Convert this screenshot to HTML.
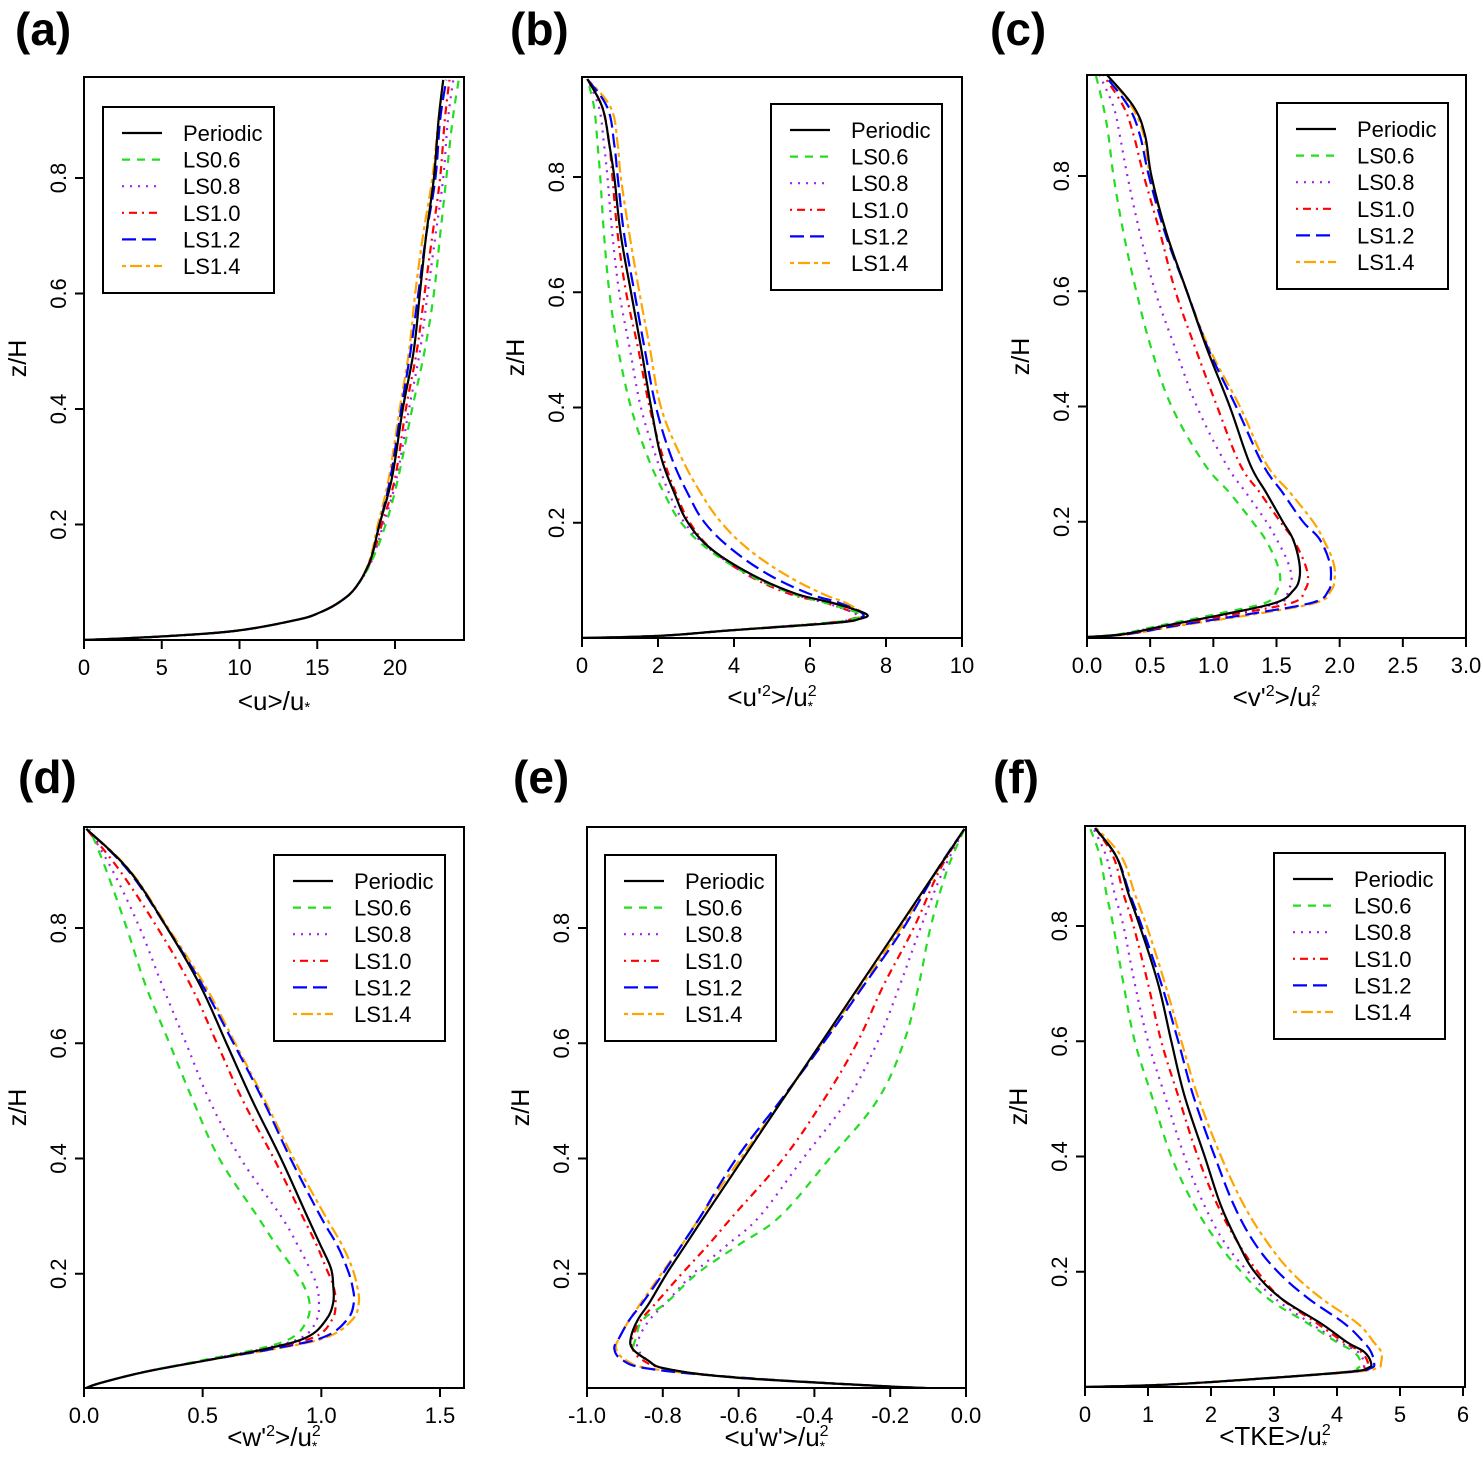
<!DOCTYPE html>
<html><head><meta charset="utf-8"><style>
html,body{margin:0;padding:0;background:#fff;}
svg{display:block;font-family:"Liberation Sans",Arial,sans-serif;}
</style></head><body>
<svg id="fig" width="1483" height="1459" viewBox="0 0 1483 1459" xmlns="http://www.w3.org/2000/svg"></svg>
<script>
const seriesNames = ["Periodic","LS0.6","LS0.8","LS1.0","LS1.2","LS1.4"];
const seriesColors = ["#000000","#22dd22","#a020f0","#ff0000","#0000ff","#ffa500"];
const seriesDash = ["", "8 7", "2 6", "2 5 8 5", "14 6", "4 4 12 4"];

// Panel (a) <u>/u*
const zA = [0,0.006,0.016,0.035,0.048,0.067,0.092,0.137,0.2,0.28,0.4,0.5,0.6,0.7,0.8,0.9,0.97];
const aPeriodic = [0,4.9,9.8,13.7,15.2,16.5,17.5,18.4,19.0,19.8,20.5,21.2,21.6,22.0,22.5,22.8,23.1];
const aLS06 = [0,4.9,9.8,13.7,15.2,16.5,17.5,18.5,19.4,20.2,21.1,21.9,22.5,22.9,23.3,23.7,24.1];
const aLS08 = [0,4.9,9.8,13.7,15.2,16.5,17.5,18.5,19.25,20.1,20.9,21.6,22.1,22.6,23.1,23.4,23.75];
const aLS10 = [0,4.9,9.8,13.7,15.2,16.5,17.5,18.45,19.15,20.0,20.7,21.4,21.9,22.4,22.9,23.2,23.5];
const aLS12 = [0,4.9,9.8,13.7,15.2,16.5,17.5,18.4,19.0,19.7,20.4,21.0,21.5,22.0,22.6,22.9,23.3];
const aLS14 = [0,4.9,9.8,13.7,15.2,16.5,17.5,18.35,18.9,19.6,20.3,20.9,21.3,21.8,22.4,22.8,23.1];
const aTicks = [0,5,10,15,20];

// Panel (b) <u'2>
const zB = [0,0.004,0.013,0.026,0.033,0.042,0.061,0.077,0.11,0.154,0.2,0.25,0.314,0.4,0.505,0.6,0.7,0.8,0.856,0.92,0.97];
const bPeriodic = [0,2.1,3.85,6.6,7.3,7.47,6.59,5.62,4.47,3.41,2.79,2.44,2.08,1.82,1.55,1.29,1.02,0.85,0.72,0.54,0.14];
const bLS06 = [0,2.1,3.85,6.4,7.12,7.3,6.41,5.53,4.38,3.32,2.61,2.17,1.73,1.29,0.94,0.72,0.58,0.48,0.41,0.32,0.14];
const bLS08 = [0,2.1,3.85,6.4,7.1,7.2,6.41,5.53,4.38,3.37,2.7,2.3,1.95,1.55,1.25,0.98,0.8,0.67,0.58,0.45,0.14];
const bLS10 = [0,2.1,3.85,6.4,7.1,7.2,6.41,5.44,4.34,3.41,2.84,2.48,2.13,1.78,1.47,1.16,0.94,0.8,0.72,0.54,0.14];
const bLS12 = [0,2.1,3.85,6.6,7.2,7.39,6.77,5.97,4.91,3.94,3.23,2.79,2.35,1.95,1.64,1.38,1.11,0.94,0.85,0.67,0.14];
const bLS14 = [0,2.1,3.85,6.6,7.2,7.39,6.94,6.32,5.35,4.38,3.67,3.14,2.61,2.08,1.78,1.51,1.25,1.02,0.94,0.76,0.14];
const bTicks = [0,2,4,6,8,10];

// Panel (c) <v'2>
const zC = [0,0.005,0.02,0.04,0.06,0.08,0.1,0.13,0.17,0.2,0.25,0.3,0.4,0.5,0.6,0.7,0.8,0.87,0.92,0.975];
const cPeriodic = [0,0.29,0.63,1.1,1.5,1.63,1.68,1.68,1.63,1.55,1.42,1.29,1.13,0.95,0.79,0.63,0.51,0.46,0.37,0.16];
const cLS06 = [0,0.26,0.58,1.03,1.42,1.5,1.53,1.5,1.41,1.31,1.13,0.93,0.67,0.51,0.39,0.29,0.21,0.17,0.13,0.07];
const cLS08 = [0,0.27,0.61,1.1,1.53,1.59,1.62,1.59,1.5,1.42,1.26,1.1,0.87,0.7,0.54,0.42,0.32,0.26,0.21,0.1];
const cLS10 = [0,0.3,0.66,1.18,1.63,1.72,1.75,1.72,1.63,1.53,1.37,1.21,1.03,0.86,0.7,0.58,0.45,0.37,0.29,0.13];
const cLS12 = [0,0.32,0.71,1.29,1.79,1.91,1.93,1.92,1.84,1.71,1.55,1.39,1.18,0.96,0.79,0.62,0.49,0.42,0.33,0.14];
const cLS14 = [0,0.33,0.74,1.34,1.82,1.93,1.96,1.95,1.87,1.79,1.61,1.42,1.21,0.97,0.79,0.63,0.5,0.45,0.355,0.16];
const cTicks = [0,0.5,1,1.5,2,2.5,3];

// Panel (d) <w'2>
const zD = [0,0.01,0.03,0.05,0.07,0.09,0.12,0.15,0.18,0.21,0.25,0.3,0.4,0.5,0.6,0.7,0.8,0.9,0.972];
const dPeriodic = [0,0.066,0.26,0.52,0.77,0.94,1.02,1.05,1.05,1.04,0.996,0.94,0.83,0.71,0.6,0.49,0.35,0.19,0.01];
const dLS06 = [0,0.066,0.26,0.5,0.74,0.88,0.94,0.95,0.925,0.88,0.81,0.73,0.57,0.46,0.36,0.26,0.18,0.094,0.024];
const dLS08 = [0,0.066,0.26,0.51,0.756,0.92,0.98,0.99,0.98,0.95,0.9,0.83,0.66,0.53,0.43,0.33,0.235,0.12,0.017];
const dLS10 = [0,0.066,0.26,0.52,0.77,0.97,1.045,1.06,1.05,1.02,0.98,0.92,0.8,0.67,0.56,0.45,0.31,0.15,0.01];
const dLS12 = [0,0.066,0.26,0.52,0.8,1.01,1.108,1.137,1.13,1.108,1.066,0.996,0.87,0.756,0.63,0.5,0.35,0.186,0.01];
const dLS14 = [0,0.066,0.26,0.52,0.81,1.024,1.13,1.158,1.15,1.13,1.087,1.017,0.883,0.763,0.637,0.51,0.355,0.193,0.01];
const dTicks = [0,0.5,1,1.5];

// Panel (e) <u'w'>
const zE = [0,0.005,0.02,0.035,0.05,0.07,0.09,0.12,0.15,0.2,0.25,0.3,0.4,0.5,0.6,0.7,0.8,0.9,0.972];
const ePeriodic = [-0.03,-0.22,-0.61,-0.79,-0.84,-0.88,-0.884,-0.866,-0.835,-0.79,-0.74,-0.69,-0.588,-0.486,-0.383,-0.281,-0.179,-0.077,-0.004];
const eLS06 = [-0.03,-0.22,-0.61,-0.79,-0.84,-0.875,-0.87,-0.853,-0.79,-0.71,-0.6,-0.49,-0.36,-0.235,-0.165,-0.125,-0.094,-0.05,-0.004];
const eLS08 = [-0.03,-0.22,-0.61,-0.79,-0.84,-0.866,-0.862,-0.835,-0.791,-0.72,-0.63,-0.544,-0.43,-0.315,-0.235,-0.175,-0.12,-0.06,-0.004];
const eLS10 = [-0.03,-0.22,-0.61,-0.79,-0.853,-0.88,-0.88,-0.857,-0.817,-0.75,-0.68,-0.615,-0.482,-0.377,-0.288,-0.218,-0.138,-0.07,-0.004];
const eLS12 = [-0.03,-0.22,-0.6,-0.835,-0.906,-0.928,-0.914,-0.888,-0.853,-0.8,-0.75,-0.7,-0.606,-0.49,-0.377,-0.27,-0.165,-0.077,-0.004];
const eLS14 = [-0.03,-0.22,-0.6,-0.83,-0.897,-0.923,-0.914,-0.888,-0.857,-0.804,-0.75,-0.7,-0.595,-0.486,-0.38,-0.275,-0.172,-0.075,-0.004];
const eTicks = [-1,-0.8,-0.6,-0.4,-0.2,0];

// Panel (f) <TKE>
const zF = [0,0.004,0.013,0.026,0.033,0.042,0.061,0.077,0.11,0.154,0.2,0.25,0.314,0.4,0.505,0.6,0.7,0.8,0.856,0.92,0.97];
const fPeriodic = [0,1.27,2.59,4.17,4.49,4.54,4.43,4.17,3.75,3.11,2.69,2.43,2.16,1.9,1.58,1.37,1.16,0.87,0.69,0.5,0.16];
const fLS06 = [0,1.27,2.59,4.12,4.33,4.38,4.27,4.01,3.54,2.9,2.48,2.11,1.74,1.37,1.06,0.79,0.61,0.45,0.34,0.24,0.08];
const fLS08 = [0,1.27,2.59,4.12,4.38,4.43,4.33,4.06,3.59,3.01,2.59,2.22,1.9,1.58,1.27,1.0,0.79,0.61,0.47,0.34,0.13];
const fLS10 = [0,1.27,2.59,4.15,4.43,4.49,4.38,4.12,3.69,3.11,2.74,2.43,2.11,1.79,1.48,1.21,1.0,0.77,0.61,0.45,0.16];
const fLS12 = [0,1.27,2.59,4.2,4.54,4.59,4.54,4.43,4.12,3.54,3.06,2.69,2.37,2.06,1.72,1.48,1.21,0.9,0.71,0.5,0.16];
const fLS14 = [0,1.27,2.59,4.25,4.64,4.7,4.7,4.59,4.33,3.75,3.27,2.9,2.53,2.16,1.79,1.53,1.27,0.98,0.79,0.58,0.18];
const fTicks = [0,1,2,3,4,5,6];

const zTicks = [0.2,0.4,0.6,0.8];

const NS = "http://www.w3.org/2000/svg";
const svg = document.getElementById("fig");
function mk(tag, attrs, parent){
  const e = document.createElementNS(NS, tag);
  for (const k in attrs) e.setAttribute(k, attrs[k]);
  (parent||svg).appendChild(e);
  return e;
}
function smoothPath(pts){
  let d = "M" + pts[0][0].toFixed(2) + "," + pts[0][1].toFixed(2);
  for (let i=0;i<pts.length-1;i++){
    const p0 = pts[Math.max(0,i-1)], p1 = pts[i], p2 = pts[i+1], p3 = pts[Math.min(pts.length-1,i+2)];
    const t = 0.18;
    const c1 = [p1[0]+(p2[0]-p0[0])*t, p1[1]+(p2[1]-p0[1])*t];
    const c2 = [p2[0]-(p3[0]-p1[0])*t, p2[1]-(p3[1]-p1[1])*t];
    d += " C"+c1[0].toFixed(2)+","+c1[1].toFixed(2)+" "+c2[0].toFixed(2)+","+c2[1].toFixed(2)+" "+p2[0].toFixed(2)+","+p2[1].toFixed(2);
  }
  return d;
}

const panels = [
  {id:"a", label:"(a)", lx:15, ly:45, box:[84,77,464,640], xv:[0,20], xp:[84,395], zp0:640, zp8:178, z:zA, ser:[aPeriodic,aLS06,aLS08,aLS10,aLS12,aLS14], ticks:aTicks, fmt:v=>String(v), leg:[103,107], title:"u", kind:"mean", tOff:70},
  {id:"b", label:"(b)", lx:510, ly:45, box:[582,77,962,638], xv:[0,10], xp:[582,962], zp0:638, zp8:177, z:zB, ser:[bPeriodic,bLS06,bLS08,bLS10,bLS12,bLS14], ticks:bTicks, fmt:v=>String(v), leg:[771,104], title:"<u'", kind:"sq", tOff:68},
  {id:"c", label:"(c)", lx:990, ly:45, box:[1087,75,1466,638], xv:[0,3], xp:[1087,1466], zp0:637, zp8:176, z:zC, ser:[cPeriodic,cLS06,cLS08,cLS10,cLS12,cLS14], ticks:cTicks, fmt:v=>v.toFixed(1), leg:[1277,103], title:"<v'", kind:"sq", tOff:68},
  {id:"d", label:"(d)", lx:18, ly:793, box:[84,827,464,1388], xv:[0,1.5], xp:[84,440], zp0:1389, zp8:928, z:zD, ser:[dPeriodic,dLS06,dLS08,dLS10,dLS12,dLS14], ticks:dTicks, fmt:v=>v.toFixed(1), leg:[274,855], title:"<w'", kind:"sq", tOff:58},
  {id:"e", label:"(e)", lx:513, ly:793, box:[587,827,966,1388], xv:[-1,0], xp:[587,966], zp0:1389, zp8:928, z:zE, ser:[ePeriodic,eLS06,eLS08,eLS10,eLS12,eLS14], ticks:eTicks, fmt:v=>v.toFixed(1), leg:[605,855], title:"<u'w'>/u", kind:"uw", tOff:58},
  {id:"f", label:"(f)", lx:993, ly:793, box:[1085,826,1465,1387], xv:[0,6], xp:[1085,1463], zp0:1387, zp8:926, z:zF, ser:[fPeriodic,fLS06,fLS08,fLS10,fLS12,fLS14], ticks:fTicks, fmt:v=>String(v), leg:[1274,853], title:"<TKE>/u", kind:"tke", tOff:58}
];

panels.forEach(p=>{
  const g = mk("g",{});
  
  
  const sx = v => p.xp[0] + (v - p.xv[0]) * (p.xp[1]-p.xp[0])/(p.xv[1]-p.xv[0]);
  const sz = z => p.zp0 - z * (p.zp0 - p.zp8)/0.8;
  const [x0,y0,x1,y1] = p.box;

  const lab = mk("text",{x:p.lx, y:p.ly, "font-size":46, "font-weight":"bold", fill:"#000"}, g);
  lab.textContent = p.label;
  
  

  const clipId = "clip"+p.id;
  const cp = mk("clipPath",{id:clipId}, g);
  mk("rect",{x:x0,y:y0,width:x1-x0,height:y1-y0}, cp);
  const lines = mk("g",{"clip-path":"url(#"+clipId+")"}, g);
  for (let s=p.ser.length-1; s>=0; s--){
    const pts = p.z.map((z,i)=>[sx(p.ser[s][i]), sz(z)]);
    const path = mk("path",{d:smoothPath(pts), fill:"none", stroke:seriesColors[s], "stroke-width":2.2, "stroke-dasharray":seriesDash[s], "stroke-linejoin":"round"}, lines);
    
    
  }

  const frame = mk("rect",{x:x0,y:y0,width:x1-x0,height:y1-y0,fill:"none",stroke:"#000","stroke-width":2}, g);
  
  

  p.ticks.forEach(v=>{
    const x = sx(v);
    mk("line",{x1:x,y1:y1,x2:x,y2:y1+9,stroke:"#000","stroke-width":2}, g);
    const t = mk("text",{x:x, y:y1+35, "font-size":22, "text-anchor":"middle", fill:"#000"}, g);
    t.textContent = p.fmt(v);
    
    
  });
  zTicks.forEach(v=>{
    const y = sz(v);
    mk("line",{x1:x0,y1:y,x2:x0-9,y2:y,stroke:"#000","stroke-width":2}, g);
    const t = mk("text",{x:0,y:0,"font-size":22,"text-anchor":"middle",fill:"#000",transform:"translate("+(x0-18)+","+y+") rotate(-90)"}, g);
    t.textContent = v.toFixed(1);
    
    
  });
  const yt = mk("text",{x:0,y:0,"font-size":25,"text-anchor":"middle",fill:"#000",transform:"translate("+(x0-58)+","+((y0+y1)/2)+") rotate(-90)"}, g);
  yt.textContent = "z/H";
  
  

  const cx = (x0+x1)/2, ty = y1+p.tOff;
  const xt = mk("text",{x:cx, y:ty, "font-size":26, "text-anchor":"middle", fill:"#000"}, g);
  
  
  if (p.kind==="mean"){
    xt.innerHTML = '&lt;u&gt;/u<tspan font-size="15" dy="2">*</tspan>';
  } else if (p.kind==="sq"){
    xt.innerHTML = p.title.replace('<','&lt;') + '<tspan font-size="16" dy="-10">2</tspan><tspan dy="10">&gt;/u</tspan><tspan font-size="16" dy="-10">2</tspan><tspan font-size="14" dx="-9" dy="15">*</tspan>';
  } else {
    xt.innerHTML = p.title.replace(/</g,'&lt;').replace(/>/g,'&gt;') + '<tspan font-size="16" dy="-10">2</tspan><tspan font-size="14" dx="-9" dy="15">*</tspan>';
  }

  const [lx, ly] = p.leg;
  const lg = mk("g",{}, g);
  
  
  mk("rect",{x:lx,y:ly,width:171,height:186,fill:"#fff",stroke:"#000","stroke-width":2}, lg);
  seriesNames.forEach((n,i)=>{
    const y = ly + 26 + i*26.6;
    mk("line",{x1:lx+19,y1:y,x2:lx+59,y2:y,stroke:seriesColors[i],"stroke-width":2.2,"stroke-dasharray":seriesDash[i]}, lg);
    const t = mk("text",{x:lx+80,y:y+8,"font-size":22,fill:"#000"}, lg);
    t.textContent = n;
    
    
  });
});
</script>
</body></html>
